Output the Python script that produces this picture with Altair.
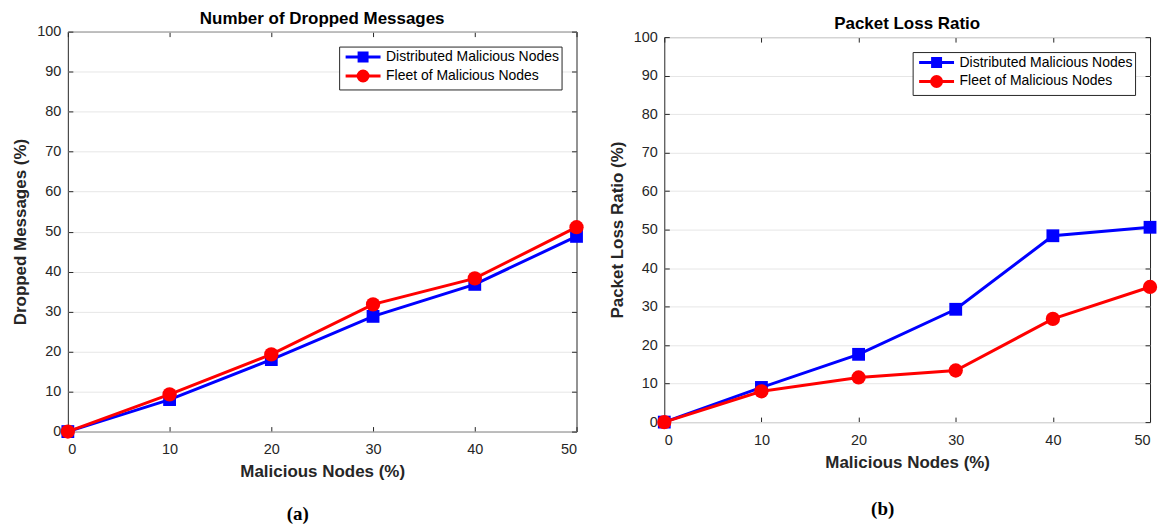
import altair as alt
import pandas as pd

x_vals = [0, 10, 20, 30, 40, 50]
series_names = ["Distributed Malicious Nodes", "Fleet of Malicious Nodes"]
colors = ["#0000ff", "#ff0000"]

dropped_distributed = [0, 8, 18, 28.8, 36.8, 48.8]
dropped_fleet = [0, 9.3, 19.3, 31.8, 38.3, 51.1]

loss_distributed = [0, 9, 17.6, 29.3, 48.4, 50.6]
loss_fleet = [0, 8, 11.6, 13.4, 26.8, 35.1]

x_ticks = [0, 10, 20, 30, 40, 50]
y_ticks = [0, 10, 20, 30, 40, 50, 60, 70, 80, 90, 100]

FONT = "Liberation Sans"
TXT = "#262626"
TICK = 5

# legend glyphs: a line segment with the marker in the middle
SQ_PATH = "M-2.5,0H2.5M-0.57,-0.57H0.57V0.57H-0.57Z"
CI_PATH = "M-2.5,0H2.5M-0.71,0A0.71,0.71,0,1,0,0.71,0A0.71,0.71,0,1,0,-0.71,0Z"


def make_df(a, b):
    rows = []
    for s, vals in zip(series_names, [a, b]):
        for xv, yv in zip(x_vals, vals):
            rows.append({"x": xv, "y": yv, "series": s})
    return pd.DataFrame(rows)


def panel(df, title, ytitle, w, h):
    legend = alt.Legend(
        title=None,
        orient="top-right",
        offset=15,
        padding=2,
        strokeColor=TXT,
        fillColor="white",
        labelFont=FONT,
        labelFontSize=14,
        labelColor="#000000",
        labelLimit=400,
        labelOffset=14.5,
        symbolOffset=13.5,
        symbolSize=196,
        symbolStrokeWidth=3,
        symbolOpacity=1,
        rowPadding=-3,
    )
    xscale = alt.Scale(domain=[0, 50], nice=False)
    yscale = alt.Scale(domain=[0, 100], nice=False)
    xenc = alt.X(
        "x:Q", scale=xscale,
        axis=alt.Axis(values=x_ticks, grid=True, gridColor=TXT, gridDash=[TICK, h - 2 * TICK],
                      ticks=False, domain=False,
                      labelPadding=11, titlePadding=8, title="Malicious Nodes (%)"),
    )
    yenc_main = alt.Y(
        "y:Q", scale=yscale,
        axis=alt.Axis(values=y_ticks, grid=True, ticks=False, domain=False,
                      labelPadding=7, titlePadding=7, title=ytitle),
    )
    yenc_none = alt.Y("y:Q", scale=yscale, axis=None)
    yenc_right = alt.Y(
        "y:Q", scale=yscale,
        axis=alt.Axis(orient="right", values=y_ticks, grid=True, gridColor=TXT,
                      gridDash=[TICK, w - 2 * TICK], labels=False, ticks=False,
                      domain=False, title=None, zindex=0),
    )
    cscale = alt.Scale(domain=series_names, range=colors)
    cenc = alt.Color("series:N", scale=cscale, legend=None)
    senc = alt.Shape("series:N", scale=alt.Scale(domain=series_names, range=["square", "circle"]), legend=None)
    layers = []
    for i, s in enumerate(series_names):
        base = alt.Chart(df).transform_filter(alt.datum.series == s)
        yenc = yenc_main if i == 0 else yenc_none
        layers.append(base.mark_line(strokeWidth=3).encode(x=xenc, y=yenc, color=cenc))
        layers.append(base.mark_point(filled=True, size=165 if i == 0 else 205, opacity=1)
                      .encode(x=xenc, y=yenc_none, color=cenc, shape=senc))
    # legend-only layer (no rows survive the filter; the legend comes from the scale domains)
    leg = alt.Chart(df).transform_filter("datum.x < 0").mark_point(
        filled=True, opacity=1, strokeWidth=3, size=196
    ).encode(
        x=xenc, y=yenc_right,
        color=alt.Color("series:N", scale=cscale, legend=legend),
        stroke=alt.Stroke("series:N", scale=cscale, legend=legend),
        shape=alt.Shape("series:N", scale=alt.Scale(domain=series_names, range=[SQ_PATH, CI_PATH]), legend=legend),
    )
    layers.append(leg)
    return alt.layer(*layers).resolve_scale(
        color="independent", shape="independent", stroke="independent"
    ).resolve_axis(y="independent").properties(
        width=w, height=h,
        title=alt.TitleParams(title, font=FONT, fontSize=17, fontWeight="bold", color="#000000", offset=-4),
    )


a = panel(make_df(dropped_distributed, dropped_fleet), "Number of Dropped Messages",
          "Dropped Messages (%)", 510, 401)
b = panel(make_df(loss_distributed, loss_fleet), "Packet Loss Ratio",
          "Packet Loss Ratio (%)", 487, 386)

cap = dict(orient="bottom", font="Liberation Serif", fontSize=19, fontWeight="bold", color="#000000", anchor="middle")

chart = alt.hconcat(
    alt.vconcat(a, title=alt.TitleParams("(a)", offset=25, **cap)),
    alt.vconcat(b, title=alt.TitleParams("(b)", offset=29, **cap)),
    spacing=23,
    center=True,
).properties(
    background="white",
    padding={"left": 3, "top": 0, "right": 0, "bottom": 0},
).configure_view(stroke=TXT, strokeWidth=1).configure_axis(
    labelFont=FONT, labelFontSize=14.5, labelColor=TXT,
    titleFont=FONT, titleFontSize=17, titleFontWeight="bold", titleColor=TXT,
    gridColor="#e6e6e6", gridWidth=1,
)

chart.save("out.html", embed_options={"renderer": "svg", "actions": False})
